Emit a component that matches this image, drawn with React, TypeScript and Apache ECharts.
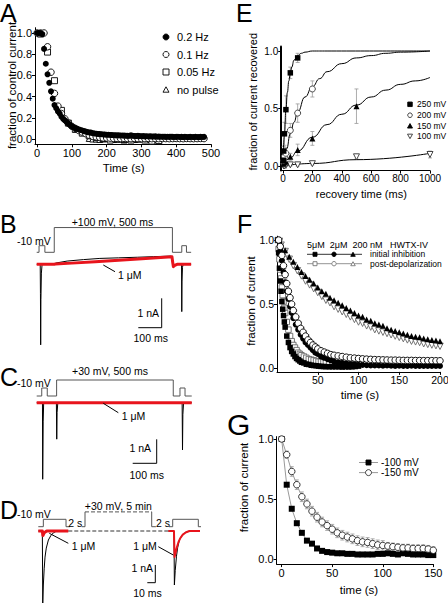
import React, { useEffect, useRef } from 'react';
import * as echarts from 'echarts';

const FONT = 'Liberation Sans';

// ===== Panel A: fraction of control current vs time =====
const aTicksX = [0, 100, 200, 300, 400, 500];
const aTicksY = [0, 0.2, 0.4, 0.6, 0.8, 1.0];
const aLegend = ['0.2 Hz', '0.1 Hz', '0.05 Hz', 'no pulse'];
const a02Time = [0,5,10,15,20,25,30,35,40,45,50,55,60,65,70,75,80,85,90,95,100,105,110,115,120,125,130,135,140,145,150,155,160,165,170,175,180,185,190,195,200,205,210,215,220,225,230,235,240,245,250,255,260,265,270,275,280,285,290,295,300,305,310,315,320,325,330,335,340,345,350,355,360,365,370,375,380,385,390,395,400,405,410,415,420,425,430,435,440,445,450,455,460,465,470,475,480];
const a02Val = [1.0,1.0,1.0,0.99,0.85,0.71,0.61,0.53,0.45,0.38,
  0.32,0.29,0.26,0.24,0.21,0.19,0.175,0.16,0.145,0.13,
  0.12,0.11,0.10,0.095,0.09,0.085,0.08,0.075,0.07,0.065,
  0.062,0.06,0.055,0.052,0.05,0.048,0.046,0.045,0.043,0.042,
  0.04,0.04,0.038,0.037,0.036,0.035,0.035,0.034,0.033,0.033,
  0.032,0.031,0.03,0.03,0.035,0.03,0.029,0.028,0.03,0.027,
  0.026,0.027,0.025,0.026,0.024,0.025,0.024,0.023,0.025,0.022,
  0.023,0.022,0.021,0.022,0.02,0.021,0.02,0.022,0.02,0.019,
  0.02,0.021,0.019,0.02,0.018,0.02,0.019,0.018,0.02,0.019,
  0.018,0.02,0.019,0.018,0.02,0.019,0.02];
const a01Time = [0,10,20,30,40,50,60,70,80,90,100,110,120,130,140,150,160,170,180,190,200,210,220,230,240,250,260,270,280,290,300,310,320,330,340,350,360,370,380,390,400,410,420,430,440,450,460,470,480];
const a01Val = [1.0,1.0,1.0,0.87,0.63,0.43,0.31,0.24,0.19,0.15,
  0.12,0.10,0.08,0.065,0.05,0.035,0.025,0.02,0.015,0.01,
  0.01,0.008,0.005,0.005,0.004,0.006,0.004,0.003,0.005,0.004,
  0.003,0.004,0.005,0.003,0.004,0.003,0.005,0.004,0.003,0.004,
  0.005,0.004,0.003,0.005,0.004,0.003,0.004,0.005,0.004];
const a005Time = [10,30,50,70,90,110,130,150,170,190,210,230,250,270,290,310,330,350];
const a005Val = [0.99,0.82,0.55,0.27,0.15,0.09,0.055,0.03,0.015,0.005,-0.01,0.0,-0.005,-0.01,0.0,-0.01,-0.02,-0.015];
const aNoPulseTime = [150,160,170,180,190,200,210,220,230,240,250,260,270,280,290,300,310,320,330,340,350];
const aNoPulseVal = [0.005,0.0,0.0,-0.005,0.0,0.005,0.0,-0.005,0.0,0.0,-0.01,0.0,0.0,-0.005,0.0,0.005,0.0,-0.005,0.0,0.0,-0.01];

// ===== Panel E: recovery =====
const eTicksX = [0, 200, 400, 600, 800, 1000];
const eTicksY = [0, 0.5, 1.0];
const eLegend = ['250 mV', '200 mV', '150 mV', '100 mV'];
const e250T = [2,5,10,20,50,100];
const e250 = [0.05,0.13,0.28,0.49,0.81,0.94];
const e250Err = [0.02,0.04,0.1,0.12,0.05,0.04];
const e200T = [5,10,20,50,100,200];
const e200 = [0.05,0.08,0.11,0.31,0.46,0.67];
const e200Err = [0.02,0.03,0.05,0.06,0.08,0.07];
const e150T = [5,10,20,50,100,200,500];
const e150 = [0.02,0.03,0.04,0.08,0.14,0.24,0.52];
const e150Err = [0.01,0.01,0.02,0.03,0.05,0.06,0.15];
const e100T = [5,10,20,50,100,200,500,1000];
const e100 = [0.0,0.0,0.005,0.01,0.01,0.02,0.08,0.10];
const e100Err = [0.01,0.01,0.01,0.01,0.01,0.01,0.02,0.03];
const fit250T = [0,10,20,30,40,50,60,75,100,125,150,200,300,1000];
const fit250 = [0,0.27,0.49,0.64,0.74,0.81,0.86,0.92,0.96,0.98,0.99,1.0,1.0,1.0];
const fit200T = [0,25,50,75,100,150,200,250,300,400,500,600,700,800,1000];
const fit200 = [0,0.15,0.28,0.38,0.47,0.6,0.69,0.76,0.82,0.89,0.94,0.96,0.98,0.99,1.0];
const fit150T = [0,50,100,200,300,400,500,600,700,800,900,1000];
const fit150 = [0,0.07,0.13,0.25,0.36,0.45,0.53,0.6,0.66,0.71,0.74,0.77];
const fit100T = [0,200,500,1000];
const fit100 = [0,0.022,0.055,0.11];

// ===== Panel F: HWTX-IV inhibition =====
const fTicksX = [50, 100, 150, 200];
const fTicksY = [0, 0.5, 1.0];
const fHeader = '5\u03bcM  2\u03bcM  200 nM   HWTX-IV';
const fLegend = ['initial inhibition', 'post-depolarization'];
const f5T = [1,2,3,4,5,6,7,8,9,10,12,14,16,18,20,22,24,26,28,30,33,36,39,42,45,48,51,54,57,60,64,68,72,76,80,84,88,92,96,100];
const f5Init = [1.0,0.9,0.78,0.68,0.6,0.52,0.46,0.41,0.36,0.32,
  0.25,0.2,0.16,0.13,0.11,0.09,0.075,0.065,0.055,0.045,
  0.04,0.03,0.028,0.022,0.02,0.018,0.015,0.013,0.012,0.011,
  0.01,0.01,0.01,0.01,0.008,0.01,0.009,0.01,0.012,0.015];
const f5Post = [1.0,0.93,0.85,0.77,0.7,0.63,0.57,0.52,0.47,0.43,
  0.36,0.3,0.25,0.21,0.18,0.16,0.14,0.12,0.11,0.1,
  0.09,0.08,0.07,0.065,0.06,0.055,0.05,0.05,0.045,0.045,
  0.04,0.04,0.035,0.035,0.03,0.03,0.03,0.03,0.03,0.03];
const f2T = [2,4,6,8,10,12,14,16,18,20,23,26,29,32,35,38,41,44,47,50,54,58,62,66,70,75,80,85,90,95,100,105,110,115,120,125,130,135,140,145,150,155,160,165,170,175,180,185,190,195,200];
const f2Init = [1.0,0.92,0.84,0.75,0.67,0.6,0.54,0.48,0.43,0.39,
  0.34,0.3,0.26,0.23,0.2,0.18,0.16,0.14,0.12,0.11,
  0.09,0.08,0.07,0.06,0.05,0.045,0.04,0.035,0.03,0.03,
  0.025,0.025,0.022,0.02,0.02,0.02,0.018,0.02,0.018,0.017,
  0.018,0.017,0.016,0.018,0.017,0.016,0.017,0.016,0.017,0.016,0.016];
const f2Post = [1.0,0.95,0.88,0.8,0.73,0.66,0.6,0.55,0.5,0.45,
  0.4,0.35,0.31,0.28,0.25,0.22,0.2,0.18,0.165,0.15,
  0.135,0.125,0.115,0.105,0.1,0.095,0.09,0.085,0.08,0.078,
  0.075,0.072,0.07,0.068,0.066,0.065,0.064,0.063,0.062,0.062,
  0.061,0.06,0.06,0.06,0.059,0.059,0.058,0.058,0.058,0.057,0.057];
const f2PostErr = [0,0.02,0.04,0.05,0.05,0.06,0.06,0.06,0.05,0.05,
  0.05,0.05,0.05,0.04,0.04,0.04,0.03,0.03,0.03,0.03,
  0.02,0.02,0.02,0.02,0.02,0.02,0.02,0.02,0.02,0.02,
  0.02,0.02,0.02,0.02,0.02,0.02,0.02,0.02,0.02,0.02,
  0.02,0.02,0.02,0.02,0.02,0.02,0.02,0.02,0.02,0.02,0.02];
const f200T = [3,5,10,15,20,25,30,35,40,45,50,55,60,65,70,75,80,85,90,95,100,105,110,115,120,125,130,135,140,145,150,155,160,165,170,175,180,185,190,195,200];
const f200Init = [1.0,0.97,0.92,0.87,0.83,0.79,0.75,0.72,0.69,0.66,0.63,
  0.60,0.58,0.55,0.53,0.51,0.49,0.47,0.45,0.43,0.41,
  0.40,0.38,0.37,0.35,0.34,0.33,0.31,0.30,0.29,0.28,
  0.27,0.26,0.25,0.245,0.24,0.23,0.225,0.22,0.215,0.21];
const f200Post = [0.99,0.96,0.91,0.85,0.80,0.76,0.72,0.68,0.65,0.62,0.59,
  0.56,0.53,0.51,0.48,0.46,0.44,0.42,0.40,0.38,0.36,
  0.35,0.33,0.32,0.30,0.29,0.28,0.27,0.26,0.25,0.24,
  0.23,0.22,0.21,0.205,0.20,0.19,0.185,0.18,0.175,0.17];

// ===== Panel G =====
const gTicksX = [0, 50, 100, 150];
const gTicksY = [0, 0.5, 1.0];
const gLegend = ['-100 mV', '-150 mV'];
const gT = [0,5,10,15,20,25,30,35,40,45,50,55,60,65,70,75,80,85,90,95,100,105,110,115,120,125,130,135,140,145,150];
const g100 = [1.0,0.62,0.42,0.30,0.22,0.155,0.13,0.09,0.07,0.06,0.055,0.05,0.05,0.045,0.045,0.04,0.04,0.04,0.04,0.045,0.045,0.05,0.045,0.04,0.05,0.045,0.04,0.04,0.04,0.035,0.035];
const g150 = [1.0,0.87,0.73,0.62,0.52,0.46,0.40,0.35,0.31,0.28,0.25,0.22,0.20,0.185,0.17,0.155,0.145,0.14,0.13,0.12,0.115,0.11,0.105,0.10,0.095,0.095,0.09,0.09,0.09,0.085,0.075];
const g150Err = [0,0.03,0.04,0.04,0.04,0.04,0.04,0.04,0.04,0.04,0.04,0.04,0.04,0.04,0.04,0.04,0.04,0.04,0.04,0.04,0.04,0.03,0.03,0.03,0.03,0.03,0.03,0.03,0.03,0.03,0.03];

// ===== Traces (time in ms, current in nA, voltage in mV) =====
const bProtoT = [0,10,10,35,35,75,75,580,580,620,620,640,640,660];
const bProtoV = [-50,-50,-10,-10,-50,-50,100,100,-50,-50,-10,-10,-50,-50];
const bBlackT = [0,15,16,17,18,20,23,75,80,130,200,270,350,430,500,575,581,584,590,600,619,620,621,623,626,660];
const bBlackI = [0,0,-1.0,-2.74,-1.2,-0.3,0,0,0.04,0.11,0.16,0.2,0.22,0.24,0.26,0.28,0.1,-0.08,-0.03,0,0,-1.61,-0.6,-0.1,0,0];
const bRedT = [0,75,80,150,250,350,450,530,578,581,584,592,600,660];
const bRedI = [0,0,0.01,0.04,0.09,0.14,0.19,0.23,0.26,0.08,-0.08,-0.03,0,0];

const cProtoT = [0,21,21,44,44,83,83,569,569,597,597,618,618,646];
const cProtoV = [-50,-50,-10,-10,-50,-50,30,30,-50,-50,-10,-10,-50,-50];
const cBlackT = [0,24,25,27,29,82,83.5,85,88,606,607.5,609,612,646];
const cBlackI = [0,0,-3.19,-0.8,0,0,-1.52,-0.4,0,0,-1.97,-0.5,0,0];
const cRedT = [0,646];
const cRedI = [0,0];

const dProtoLeftT = [0,6,6,33,33,37.7];
const dProtoLeftV = [-50,-50,-10,-10,-50,-50];
const dProtoStepUpT = [51.7,55.6,55.6];
const dProtoStepUpV = [-50,-50,30];
const dProtoTopT = [55.6,135];
const dProtoTopV = [30,30];
const dProtoStepDownT = [135,135,140];
const dProtoStepDownV = [30,-50,-50];
const dProtoRightT = [155.6,160,160,190.5,190.5,193.7];
const dProtoRightV = [-50,-50,-10,-10,-50,-50];
const dBlackLeftT = [0,4.8,5.3,6,7,8,9.5,12,15,18,22,35.7];
const dBlackLeftI = [0,0,-4.0,-3.0,-2.1,-1.45,-0.95,-0.5,-0.25,-0.1,0,0];
const dRedLeftT = [0,4.8,5.5,7,10,35.7];
const dRedLeftI = [0,0,-0.25,-0.1,0,0];
const dGapT = [35.7,154.8];
const dGapI = [0,0];
const dBlackRightT = [154.8,161.5,162,163,164.5,166,168,171,175,180,192.5];
const dBlackRightI = [0,0,-3.0,-2.2,-1.4,-0.9,-0.5,-0.25,-0.08,0,0];
const dRedRightT = [154.8,161.5,162.2,163.5,165,167,169,172,176,180,192.5];
const dRedRightI = [0,0,-1.45,-1.2,-0.9,-0.6,-0.4,-0.2,-0.07,0,0];

// ---------- helpers ----------
const pairs = (xs: number[], ys: number[]) => xs.map((x, i) => [x, ys[i]]);
const errRows = (xs: number[], ys: number[], es: number[]) =>
  xs.map((x, i) => [x, ys[i] - es[i], ys[i] + es[i]]).filter((r) => r[2] - r[1] > 0);

function sciX(grid: number, min: number, max: number, ticks: number[], fs: number, fmt?: (v: number) => string) {
  return {
    type: 'value', gridIndex: grid, min, max,
    axisLine: { show: true, onZero: false, lineStyle: { color: '#000', width: 1 } },
    axisTick: { show: true, length: 3, customValues: ticks, lineStyle: { color: '#000', width: 1 } },
    axisLabel: { show: true, customValues: ticks, fontSize: fs, color: '#000', margin: 3, fontFamily: FONT, formatter: fmt },
    splitLine: { show: false },
  };
}
function sciY(grid: number, min: number, max: number, ticks: number[], fs: number, lw = 1) {
  return {
    type: 'value', gridIndex: grid, min, max,
    axisLine: { show: true, onZero: false, lineStyle: { color: '#000', width: lw } },
    axisTick: { show: true, length: 3, customValues: ticks, lineStyle: { color: '#000', width: 1 } },
    axisLabel: { show: true, customValues: ticks, fontSize: fs, color: '#000', margin: 3, fontFamily: FONT, formatter: (v: number) => v.toFixed(1) },
    splitLine: { show: false },
  };
}
function hiddenAxis(grid: number, min: number, max: number) {
  return { type: 'value', gridIndex: grid, min, max, show: false, splitLine: { show: false } };
}
function scatter(data: number[][], xi: number, yi: number, symbol: string, size: number, fill: string, stroke: string | null, z = 3, rotate = 0) {
  return {
    type: 'scatter', xAxisIndex: xi, yAxisIndex: yi, data, symbol, symbolSize: size, symbolRotate: rotate,
    itemStyle: { color: fill, borderColor: stroke || fill, borderWidth: stroke ? 0.9 : 0, opacity: 1 },
    z, silent: true, clip: false,
  };
}
function lineS(data: number[][], xi: number, yi: number, color: string, width: number, extra: any = {}) {
  return {
    type: 'line', xAxisIndex: xi, yAxisIndex: yi, data, showSymbol: false, symbol: 'none',
    lineStyle: { color, width, type: extra.dash ? 'dashed' : 'solid', join: 'round' },
    smooth: extra.smooth || false, smoothMonotone: extra.smooth ? 'x' : undefined,
    z: extra.z ?? 2, silent: true, clip: extra.clip ?? true,
  };
}
function errSeries(rows: number[][], xi: number, yi: number, color: string, cap: number) {
  return {
    type: 'custom', xAxisIndex: xi, yAxisIndex: yi, z: 1, silent: true, clip: false,
    renderItem: (_p: any, api: any) => {
      const x = api.value(0);
      const a = api.coord([x, api.value(1)]);
      const b = api.coord([x, api.value(2)]);
      const st = { stroke: color, lineWidth: 0.8 };
      return {
        type: 'group', children: [
          { type: 'line', shape: { x1: a[0], y1: a[1], x2: b[0], y2: b[1] }, style: st },
          { type: 'line', shape: { x1: a[0] - cap, y1: a[1], x2: a[0] + cap, y2: a[1] }, style: st },
          { type: 'line', shape: { x1: b[0] - cap, y1: b[1], x2: b[0] + cap, y2: b[1] }, style: st },
        ],
      };
    },
    data: rows, encode: { x: 0, y: [1, 2] },
  };
}
// trace layout: pixel mapping for hidden axes
function traceAxisRange(top: number, height: number, zeroPx: number, ppu: number, zeroVal = 0) {
  return { min: zeroVal - (top + height - zeroPx) / ppu, max: zeroVal + (zeroPx - top) / ppu };
}

function txt(x: number, y: number, text: string, fs: number, extra: any = {}) {
  return {
    type: 'text', x, y, rotation: extra.rotation || 0, z: 10, silent: true,
    style: { text, fontSize: fs, fontFamily: FONT, fill: extra.fill || '#000', align: extra.align || 'left', verticalAlign: 'middle' },
  };
}
function seg(x1: number, y1: number, x2: number, y2: number, color = '#000', w = 1, dash = false) {
  return { type: 'line', z: 10, silent: true, shape: { x1, y1, x2, y2 }, style: { stroke: color, lineWidth: w, lineDash: dash ? [3, 2] : null } };
}
function tri(cx: number, cy: number, s: number, fill: string, stroke: string, down = false) {
  const h = s * 0.9;
  const pts = down
    ? [[cx - s / 2, cy - h / 2], [cx + s / 2, cy - h / 2], [cx, cy + h / 2]]
    : [[cx - s / 2, cy + h / 2], [cx + s / 2, cy + h / 2], [cx, cy - h / 2]];
  return { type: 'polygon', z: 10, silent: true, shape: { points: pts }, style: { fill, stroke, lineWidth: 0.9 } };
}
function circ(cx: number, cy: number, r: number, fill: string, stroke: string) {
  return { type: 'circle', z: 10, silent: true, shape: { cx, cy, r }, style: { fill, stroke, lineWidth: 0.9 } };
}
function sq(cx: number, cy: number, s: number, fill: string, stroke: string) {
  return { type: 'rect', z: 10, silent: true, shape: { x: cx - s / 2, y: cy - s / 2, width: s, height: s }, style: { fill, stroke, lineWidth: 0.9 } };
}

function buildOption() {
  // grids: 0 A, 1 E, 2 F, 3 G, 4 B, 5 C, 6 D
  const gB = { left: 36.7, top: 200, width: 163.8, height: 160 };
  const gC = { left: 36.7, top: 360, width: 168, height: 130 };
  const gD = { left: 38.3, top: 495, width: 168, height: 108 };
  const grids = [
    { left: 35, top: 27.7, width: 176, height: 116.6 },
    { left: 281.2, top: 46.4, width: 148.8, height: 124.2 },
    { left: 277, top: 236.2, width: 163, height: 135.7 },
    { left: 276.6, top: 436.6, width: 156.7, height: 127.5 },
    gB, gC, gD,
  ].map((g) => ({ ...g, containLabel: false, outerBoundsMode: 'none', show: false }));

  const bCur = traceAxisRange(gB.top, gB.height, 264.3, 29.4);
  const bPro = traceAxisRange(gB.top, gB.height, 252.3, 0.165, -50);
  const cCur = traceAxisRange(gC.top, gC.height, 402.7, 24);
  const cPro = traceAxisRange(gC.top, gC.height, 396, 0.2, -50);
  const dCur = traceAxisRange(gD.top, gD.height, 531, 18);
  const dPro = traceAxisRange(gD.top, gD.height, 526.7, 0.185, -50);

  const xAxis = [
    sciX(0, -6, 500, aTicksX, 11, (v) => String(v)),
    sciX(1, -12, 1000, eTicksX, 10, (v) => String(v)),
    sciX(2, 0, 200, fTicksX, 10.5, (v) => String(v)),
    sciX(3, -5, 150, gTicksX, 11, (v) => String(v)),
    hiddenAxis(4, 0, 700),
    hiddenAxis(5, 0, 700),
    hiddenAxis(6, 0, 200),
  ];
  const yAxis = [
    sciY(0, -0.05, 1.05, aTicksY, 11),
    sciY(1, -0.04, 1.04, eTicksY, 10, 2),
    sciY(2, -0.03, 1.03, fTicksY, 10.5),
    sciY(3, -0.04, 1.02, gTicksY, 11),
    hiddenAxis(4, bCur.min, bCur.max), // 4
    hiddenAxis(4, bPro.min, bPro.max), // 5
    hiddenAxis(5, cCur.min, cCur.max), // 6
    hiddenAxis(5, cPro.min, cPro.max), // 7
    hiddenAxis(6, dCur.min, dCur.max), // 8
    hiddenAxis(6, dPro.min, dPro.max), // 9
  ];

  const RED = '#e8141c';
  const PROTO = '#555';
  const series: any[] = [
    // A
    scatter(pairs(aNoPulseTime, aNoPulseVal), 0, 0, 'triangle', 6, '#fff', '#000', 2),
    scatter(pairs(a005Time, a005Val), 0, 0, 'rect', 6, '#fff', '#000', 2),
    scatter(pairs(a01Time, a01Val), 0, 0, 'circle', 6.5, '#fff', '#000', 2),
    scatter(pairs(a02Time, a02Val), 0, 0, 'circle', 6, '#000', null, 3),
    // E
    lineS(pairs(fit250T, fit250), 1, 1, '#000', 1, { smooth: true }),
    lineS(pairs(fit200T, fit200), 1, 1, '#000', 1, { smooth: true }),
    lineS(pairs(fit150T, fit150), 1, 1, '#000', 1, { smooth: true }),
    lineS(pairs(fit100T, fit100), 1, 1, '#000', 1, { smooth: true }),
    errSeries(errRows(e250T, e250, e250Err), 1, 1, '#999', 2),
    errSeries(errRows(e200T, e200, e200Err), 1, 1, '#999', 2),
    errSeries(errRows(e150T, e150, e150Err), 1, 1, '#999', 2),
    errSeries(errRows(e100T, e100, e100Err), 1, 1, '#999', 2),
    scatter(pairs(e100T, e100), 1, 1, 'triangle', 6, '#fff', '#333', 3, 180),
    scatter(pairs(e150T, e150), 1, 1, 'triangle', 6, '#000', null, 3),
    scatter(pairs(e200T, e200), 1, 1, 'circle', 6, '#fff', '#333', 3),
    scatter(pairs(e250T, e250), 1, 1, 'rect', 5.5, '#000', null, 3),
    // F
    errSeries(errRows(f2T, f2Post, f2PostErr), 2, 2, '#888', 1.5),
    scatter(pairs(f200T, f200Post), 2, 2, 'triangle', 6.5, '#fff', '#666', 2, 180),
    scatter(pairs(f200T, f200Init), 2, 2, 'triangle', 6, '#000', null, 3),
    scatter(pairs(f5T, f5Post), 2, 2, 'rect', 5.5, '#fff', '#666', 2),
    scatter(pairs(f5T, f5Init), 2, 2, 'rect', 5.5, '#000', null, 3),
    scatter(pairs(f2T, f2Post), 2, 2, 'circle', 6.5, '#fff', '#000', 4),
    scatter(pairs(f2T, f2Init), 2, 2, 'circle', 6, '#000', null, 3),
    // G
    errSeries(errRows(gT, g150, g150Err), 3, 3, '#999', 2),
    { ...lineS(pairs(gT, g100), 3, 3, '#999', 1), showSymbol: true, symbol: 'rect', symbolSize: 6, itemStyle: { color: '#000' }, z: 3 },
    { ...lineS(pairs(gT, g150), 3, 3, '#999', 1), showSymbol: true, symbol: 'circle', symbolSize: 6.5, itemStyle: { color: '#fff', borderColor: '#222', borderWidth: 0.9 }, z: 4 },
    // B traces
    lineS(pairs(bProtoT, bProtoV), 4, 5, PROTO, 1),
    lineS(pairs(bBlackT, bBlackI), 4, 4, '#000', 1),
    lineS(pairs(bRedT, bRedI), 4, 4, RED, 3, { z: 3 }),
    // C traces
    lineS(pairs(cProtoT, cProtoV), 5, 7, PROTO, 1),
    lineS(pairs(cBlackT, cBlackI), 5, 6, '#000', 1),
    lineS(pairs(cRedT, cRedI), 5, 6, RED, 3, { z: 3 }),
    // D traces
    lineS(pairs(dProtoLeftT, dProtoLeftV), 6, 9, PROTO, 1),
    lineS(pairs(dProtoStepUpT, dProtoStepUpV), 6, 9, PROTO, 1),
    lineS(pairs(dProtoTopT, dProtoTopV), 6, 9, PROTO, 1, { dash: true }),
    lineS(pairs(dProtoStepDownT, dProtoStepDownV), 6, 9, PROTO, 1),
    lineS(pairs(dProtoRightT, dProtoRightV), 6, 9, PROTO, 1),
    lineS(pairs(dBlackLeftT, dBlackLeftI), 6, 8, '#000', 1),
    lineS(pairs(dBlackRightT, dBlackRightI), 6, 8, '#000', 1),
    lineS(pairs(dGapT, dGapI), 6, 8, '#333', 1, { dash: true }),
    lineS(pairs(dRedLeftT, dRedLeftI), 6, 8, RED, 3, { z: 3 }),
    lineS(pairs(dRedRightT, dRedRightI), 6, 8, RED, 2, { z: 3 }),
  ];

  const graphic: any[] = [
    // panel letters
    txt(0, 13, 'A', 25), txt(236, 13, 'E', 25), txt(0, 224, 'B', 25), txt(0, 377, 'C', 25),
    txt(0, 510, 'D', 25), txt(237, 224, 'F', 25), txt(227, 424, 'G', 30),
    // axis titles
    txt(12, 85.5, 'fraction of control current', 11.5, { align: 'center', rotation: Math.PI / 2 }),
    txt(123.7, 168.3, 'Time (s)', 11.5, { align: 'center' }),
    txt(253.3, 101.7, 'fraction of current recovered', 11, { align: 'center', rotation: Math.PI / 2 }),
    txt(361.3, 194, 'recovery time (ms)', 11, { align: 'center' }),
    txt(250.7, 301, 'fraction of current', 11.5, { align: 'center', rotation: Math.PI / 2 }),
    txt(360, 395, 'time (s)', 11.5, { align: 'center' }),
    txt(244, 487.5, 'fraction of current', 11.5, { align: 'center', rotation: Math.PI / 2 }),
    txt(359, 590, 'time (s)', 11.5, { align: 'center' }),
    // A legend
    circ(166, 37, 3, '#000', '#000'), txt(177, 37, aLegend[0], 11),
    circ(166, 54.5, 3, '#fff', '#000'), txt(177, 54.5, aLegend[1], 11),
    sq(166, 72, 6, '#fff', '#000'), txt(177, 72, aLegend[2], 11),
    tri(166, 89.5, 6, '#fff', '#000'), txt(177, 89.5, aLegend[3], 11),
    // E legend
    sq(410, 104.3, 4.5, '#000', '#000'), txt(417, 104.3, eLegend[0], 8.5),
    circ(410, 115.2, 2.3, '#fff', '#333'), txt(417, 115.2, eLegend[1], 8.5),
    tri(410, 125.8, 5, '#000', '#000'), txt(417, 125.8, eLegend[2], 8.5),
    tri(410, 136.4, 5, '#fff', '#333', true), txt(417, 136.4, eLegend[3], 8.5),
    // F legend
    txt(307, 245, fHeader, 9),
    seg(307, 254.3, 362, 254.3, '#000', 0.8),
    sq(315, 254.3, 4, '#000', '#000'), circ(334, 254.3, 2.2, '#000', '#000'), tri(353, 254.3, 4.5, '#000', '#000'),
    txt(370, 254.3, fLegend[0], 8.5),
    seg(307, 263.7, 362, 263.7, '#777', 0.8),
    sq(315, 263.7, 4, '#fff', '#777'), circ(334, 263.7, 2.2, '#fff', '#777'), tri(353, 263.7, 4.5, '#fff', '#777'),
    txt(370, 263.7, fLegend[1], 8.5),
    // G legend
    seg(359, 462.5, 378, 462.5, '#999', 1), sq(368.5, 462.5, 5, '#000', '#000'), txt(381, 462.5, gLegend[0], 10),
    seg(359, 472.6, 378, 472.6, '#999', 1), circ(368.5, 472.6, 3, '#fff', '#333'), txt(381, 472.6, gLegend[1], 10),
    // B annotations
    txt(17, 240.7, '-10 mV', 10.5), txt(112.5, 221.7, '+100 mV, 500 ms', 10.5, { align: 'center' }),
    seg(103.3, 265, 115, 271.7), txt(118, 275, '1 \u03bcM', 10.5),
    seg(161.7, 298.3, 161.7, 327.7), seg(138.3, 327.7, 161.7, 327.7),
    txt(159, 313.3, '1 nA', 10.5, { align: 'right' }), txt(150.7, 338.3, '100 ms', 10.5, { align: 'center' }),
    // C annotations
    txt(17, 382.7, '-10 mV', 10.5), txt(110, 370.7, '+30 mV, 500 ms', 10.5, { align: 'center' }),
    seg(103.3, 403.3, 118.3, 412.7), txt(121.7, 416, '1 \u03bcM', 10.5),
    seg(156.7, 439.3, 156.7, 463.3), seg(132.7, 463.3, 156.7, 463.3),
    txt(151, 447.7, '1 nA', 10.5, { align: 'right' }), txt(146.7, 475, '100 ms', 10.5, { align: 'center' }),
    // D annotations
    txt(17, 514.3, '-10 mV', 10.5), txt(118.3, 506, '+30 mV, 5 min', 10.5, { align: 'center' }),
    txt(68.3, 522.7, '2 s', 10.5), txt(156, 522.7, '2 s', 10.5),
    seg(49.3, 533.3, 68.3, 543.3), txt(71.7, 545.7, '1 \u03bcM', 10.5),
    seg(158.3, 546.7, 173.3, 555), txt(156.7, 545.7, '1 \u03bcM', 10.5, { align: 'right' }),
    seg(155.3, 565, 155.3, 582.7), seg(147.3, 582.7, 155.3, 582.7),
    txt(153, 567.7, '1 nA', 10.5, { align: 'right' }), txt(147.5, 592.7, '10 ms', 10.5, { align: 'center' }),
  ];

  return {
    animation: false,
    backgroundColor: '#fff',
    textStyle: { fontFamily: FONT },
    grid: grids,
    xAxis,
    yAxis,
    series,
    graphic,
  };
}

export default function App() {
  const ref = useRef<HTMLDivElement>(null);
  useEffect(() => {
    document.body.style.margin = '0';
    if (!ref.current) return;
    const chart = echarts.init(ref.current, null, { renderer: 'svg' });
    chart.setOption(buildOption() as any);
    return () => chart.dispose();
  }, []);
  return <div ref={ref} style={{ width: 448, height: 603 }} />;
}
